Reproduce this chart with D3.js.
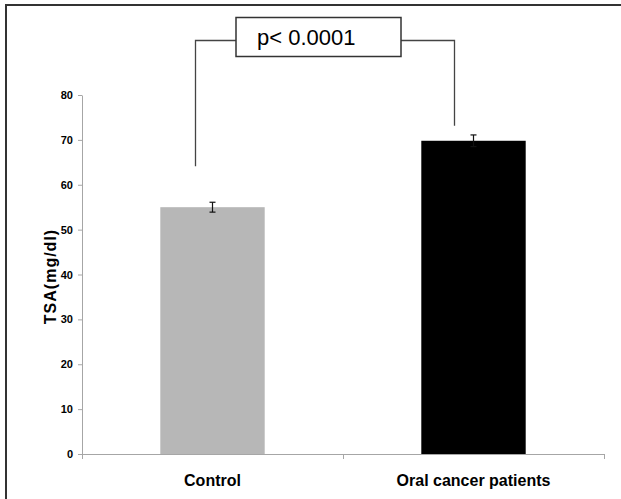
<!DOCTYPE html>
<html><head><meta charset="utf-8">
<script src="https://cdn.jsdelivr.net/npm/d3@7/dist/d3.min.js"></script>
<style>body{margin:0;background:#fff}svg{display:block}</style>
</head><body>
<svg id="c" width="621" height="499"></svg>
<script>
const categories = ["Control", "Oral cancer patients"];
const values = [55.0, 69.8];
const errors = [1.1, 1.3];
const barColors = ["#b7b7b7", "#000000"];
const yTicks = [0, 10, 20, 30, 40, 50, 60, 70, 80];
const yTitle = "TSA(mg/dl)";
const pLabel = "p< 0.0001";

const svg = d3.select("#c");
const mLeft = 82, mRight = 604, mTop = 95, mBottom = 454;

// outer frame
svg.append("path").attr("d", "M6,499V5H621").attr("fill", "none").attr("stroke", "#333").attr("stroke-width", 2);

const x = d3.scaleBand().domain(categories).range([mLeft, mRight]).paddingInner(0.6).paddingOuter(0.3);
const y = d3.scaleLinear().domain([0, 80]).range([mBottom, mTop]);

// bars
svg.selectAll("rect.bar").data(categories).enter().append("rect")
  .attr("x", d => x(d)).attr("width", x.bandwidth())
  .attr("y", (d, i) => y(values[i])).attr("height", (d, i) => y(0) - y(values[i]))
  .attr("fill", (d, i) => barColors[i]);

// y axis
const yAxis = svg.append("g").attr("transform", `translate(${mLeft},0)`)
  .call(d3.axisLeft(y).tickValues(yTicks).tickSize(4).tickPadding(5).tickSizeOuter(0));
yAxis.select(".domain").attr("stroke", "#a6a6a6");
yAxis.selectAll(".tick line").attr("stroke", "#a6a6a6");
yAxis.selectAll("text").attr("font-family", "Liberation Sans, Arial, sans-serif").attr("font-weight", "bold").attr("font-size", 11).attr("fill", "#000");

// x axis line with boundary ticks
const xb = [mLeft, (mLeft + mRight) / 2, mRight];
svg.append("line").attr("x1", mLeft).attr("x2", mRight).attr("y1", mBottom + 0.5).attr("y2", mBottom + 0.5).attr("stroke", "#a6a6a6");
svg.selectAll("line.xt").data(xb).enter().append("line")
  .attr("x1", d => d + 0.5).attr("x2", d => d + 0.5).attr("y1", mBottom).attr("y2", mBottom + 5).attr("stroke", "#a6a6a6");

// x labels
svg.selectAll("text.xl").data(categories).enter().append("text")
  .attr("x", d => x(d) + x.bandwidth() / 2).attr("y", 486)
  .attr("text-anchor", "middle").attr("font-family", "Liberation Sans, Arial, sans-serif")
  .attr("font-weight", "bold").attr("font-size", 16).text(d => d);

// y title
svg.append("text").attr("transform", `translate(56,${(mTop + mBottom) / 2 + 2}) rotate(-90)`)
  .attr("text-anchor", "middle").attr("font-family", "Liberation Sans, Arial, sans-serif")
  .attr("font-weight", "bold").attr("font-size", 16).attr("letter-spacing", 1).text(yTitle);

// error bars
categories.forEach((c, i) => {
  const cx = x(c) + x.bandwidth() / 2;
  const g = svg.append("g").attr("stroke", "#111").attr("stroke-width", 1.2);
  g.append("line").attr("x1", cx).attr("x2", cx).attr("y1", y(values[i] + errors[i])).attr("y2", y(values[i] - errors[i]));
  g.append("line").attr("x1", cx - 3).attr("x2", cx + 3).attr("y1", y(values[i] + errors[i])).attr("y2", y(values[i] + errors[i]));
  g.append("line").attr("x1", cx - 3).attr("x2", cx + 3).attr("y1", y(values[i] - errors[i])).attr("y2", y(values[i] - errors[i]));
});

// significance bracket
const bx1 = x(categories[0]) + x.bandwidth() / 2 - 17;
const bx2 = x(categories[1]) + x.bandwidth() / 2 - 19;
const by = 40.5;
svg.append("path").attr("d", `M${bx1},${y(values[0]) - 41}V${by}H236`).attr("fill", "none").attr("stroke", "#444").attr("stroke-width", 1.3);
svg.append("path").attr("d", `M401,${by}H${bx2}V${y(values[1]) - 15}`).attr("fill", "none").attr("stroke", "#444").attr("stroke-width", 1.3);
svg.append("rect").attr("x", 236).attr("y", 17.5).attr("width", 165).attr("height", 39).attr("fill", "#fff").attr("stroke", "#333").attr("stroke-width", 1.5);
svg.append("text").attr("x", 257).attr("y", 45).attr("font-family", "Liberation Sans, Arial, sans-serif").attr("font-size", 22).text(pLabel);
</script>
</body></html>
